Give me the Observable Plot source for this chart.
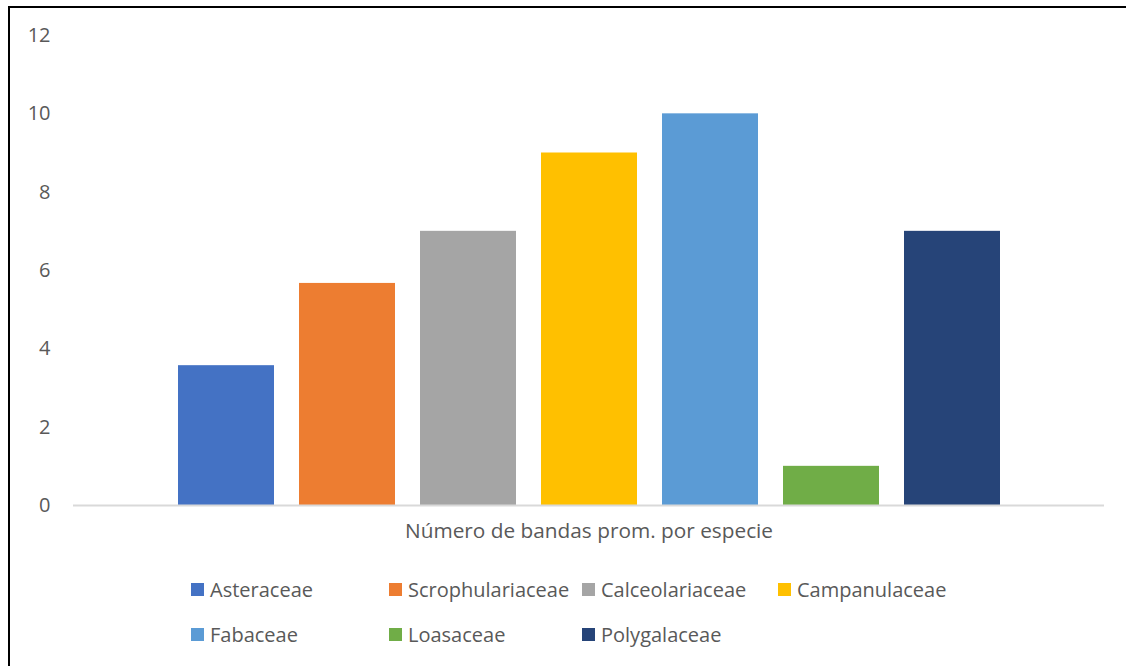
<!DOCTYPE html>
<html><head><meta charset="utf-8">
<script src="https://cdn.jsdelivr.net/npm/d3@7"></script>
<script src="https://cdn.jsdelivr.net/npm/@observablehq/plot@0.6"></script>
<style>
body{margin:0;background:#fff;}
#wrap{position:relative;width:1126px;height:666px;overflow:hidden;font-family:"Open Sans", sans-serif;background:#fff;}
#frame{position:absolute;left:8px;top:6px;width:1200px;height:800px;border-left:2px solid #000;border-top:2px solid #000;}
#chart{position:absolute;left:0;top:0;}
#legend{position:absolute;left:191px;top:567px;display:grid;grid-template-columns:198px 193px 196px 196px;grid-auto-rows:45px;}
.item{display:flex;align-items:center;font-size:20px;color:#595959;white-space:nowrap;}
.sw{width:13px;height:13px;margin-right:6px;flex:none;}
</style></head>
<body>
<div id="wrap"><div id="frame"></div><div id="chart"></div><div id="legend"></div></div>
<script>
const families = ["Asteraceae","Scrophulariaceae","Calceolariaceae","Campanulaceae","Fabaceae","Loasaceae","Polygalaceae"];
const values = [3.57, 5.67, 7, 9, 10, 1, 7];
const colors = ["#4472C4","#ED7D31","#A5A5A5","#FFC000","#5B9BD5","#70AD47","#264478"];
const yTicks = [0,2,4,6,8,10,12];
const xLabel = "Número de bandas prom. por especie";

const data = families.map((f,i)=>({family:f, value:values[i]}));

const chart = Plot.plot({
  width:1126, height:560,
  marginLeft:73, marginRight:22, marginTop:35, marginBottom:55,
  style:{fontFamily:"'Open Sans', sans-serif", fontSize:"20px", color:"#595959", background:"transparent"},
  x:{domain:families, paddingInner:0.207, paddingOuter:0.86, axis:null},
  y:{domain:[0,12], ticks:yTicks, tickSize:0, tickPadding:23, label:null},
  color:{domain:families, range:colors},
  marks:[
    Plot.barY(data,{x:"family", y:"value", fill:"family"}),
    Plot.ruleY([0],{stroke:"#d9d9d9", strokeWidth:2}),
    Plot.text([xLabel],{frameAnchor:"bottom", dy:32, fill:"#595959", fontSize:20.8})
  ]
});
document.getElementById("chart").appendChild(chart);

const leg = document.getElementById("legend");
families.forEach((f,i)=>{
  const it = document.createElement("div"); it.className="item";
  const sw = document.createElement("span"); sw.className="sw"; sw.style.background=colors[i];
  it.appendChild(sw); it.appendChild(document.createTextNode(f));
  leg.appendChild(it);
});
</script>
</body></html>
